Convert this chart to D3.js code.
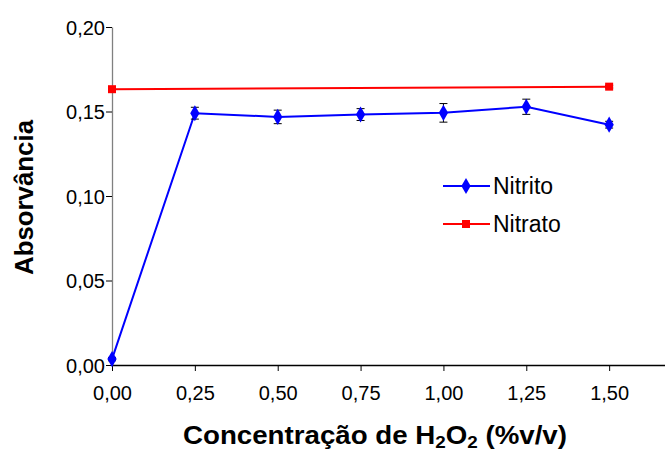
<!DOCTYPE html>
<html>
<head>
<meta charset="utf-8">
<script src="https://cdn.jsdelivr.net/npm/d3@7"></script>
<style>
  body { margin: 0; background: #fff; }
  svg { display: block; font-family: "Liberation Sans", Arial, sans-serif; }
</style>
</head>
<body>
<div id="chart"></div>
<script>
const concentrations = [0, 0.25, 0.5, 0.75, 1.0, 1.25, 1.5];
const nitritoValues  = [0.0035, 0.149, 0.1468, 0.1482, 0.1492, 0.1528, 0.1422];
const nitritoErrors  = [0.001, 0.0035, 0.004, 0.0035, 0.0055, 0.0045, 0.002];
const nitratoX       = [0, 1.5];
const nitratoValues  = [0.1632, 0.1647];
const nitratoErrors  = [0.0008, 0.0008];
const xTicks = [0, 0.25, 0.5, 0.75, 1.0, 1.25, 1.5];
const yTicks = [0, 0.05, 0.10, 0.15, 0.20];

const W = 665, H = 450;
const BLUE = "#0000ff", RED = "#ff0000";

const svg = d3.select("#chart").append("svg")
  .attr("width", W).attr("height", H);

const x = d3.scaleLinear().domain([0, 1.75]).range([112, 692]);
const y = d3.scaleLinear().domain([0, 0.20]).range([365, 27]);
const fmt = d => d3.format(".2f")(d).replace(".", ",");

// Axes
const xAxis = svg.append("g")
  .attr("transform", `translate(0,${y(0)})`)
  .call(d3.axisBottom(x).tickValues(xTicks).tickFormat(fmt).tickSize(6).tickSizeOuter(0));
xAxis.select(".domain").attr("stroke", "#000").attr("stroke-width", 1.3);
xAxis.selectAll(".tick line").attr("stroke", "#000");
xAxis.selectAll(".tick text").attr("font-size", 20).attr("fill", "#000")
  .attr("y", 35).attr("dy", null);

const yAxis = svg.append("g")
  .attr("transform", `translate(${x(0)},0)`)
  .call(d3.axisLeft(y).tickValues(yTicks).tickFormat(fmt).tickSize(6).tickSizeOuter(0));
yAxis.select(".domain").attr("stroke", "#808080").attr("stroke-width", 1.3);
yAxis.selectAll(".tick line").attr("stroke", "#000");
yAxis.selectAll(".tick text").attr("font-size", 20).attr("fill", "#000")
  .attr("x", -7).attr("dy", "0.36em");

// Axis titles
svg.append("text")
  .attr("x", 183).attr("y", 444)
  .attr("textLength", 384).attr("lengthAdjust", "spacingAndGlyphs")
  .attr("font-size", 25).attr("font-weight", "bold")
  .html('Concentração de H<tspan dy="4" font-size="17">2</tspan><tspan dy="-4">O</tspan><tspan dy="4" font-size="17">2</tspan><tspan dy="-4"> (%v/v)</tspan>');

svg.append("text")
  .attr("transform", "translate(33,275) rotate(-90)")
  .attr("textLength", 155).attr("lengthAdjust", "spacingAndGlyphs")
  .attr("font-size", 25).attr("font-weight", "bold")
  .text("Absorvância");

// Data
const nitrito = concentrations.map((c, i) => ({ x: c, v: nitritoValues[i], e: nitritoErrors[i] }));
const nitrato = nitratoX.map((c, i) => ({ x: c, v: nitratoValues[i], e: nitratoErrors[i] }));

const line = d3.line().x(d => x(d.x)).y(d => y(d.v));

function errorBars(data) {
  const g = svg.append("g").attr("stroke", "#000").attr("stroke-width", 1);
  data.forEach(d => {
    g.append("line").attr("x1", x(d.x)).attr("x2", x(d.x))
      .attr("y1", y(d.v - d.e)).attr("y2", y(d.v + d.e));
    [d.v - d.e, d.v + d.e].forEach(v => {
      g.append("line").attr("x1", x(d.x) - 4).attr("x2", x(d.x) + 4)
        .attr("y1", y(v)).attr("y2", y(v));
    });
  });
}

// Nitrato (red)
svg.append("path").datum(nitrato)
  .attr("fill", "none").attr("stroke", RED).attr("stroke-width", 2)
  .attr("d", line);
errorBars(nitrato);
svg.selectAll(".sq").data(nitrato).join("rect")
  .attr("x", d => x(d.x) - 4).attr("y", d => y(d.v) - 4)
  .attr("width", 8).attr("height", 8).attr("fill", RED);

// Nitrito (blue)
svg.append("path").datum(nitrito)
  .attr("fill", "none").attr("stroke", BLUE).attr("stroke-width", 2)
  .attr("d", line);
errorBars(nitrito);
const diamond = d3.symbol().type(d3.symbolDiamond).size(75);
svg.selectAll(".dm").data(nitrito).join("path")
  .attr("transform", d => `translate(${x(d.x)},${y(d.v)})`)
  .attr("d", diamond).attr("fill", BLUE);

// Legend
const legend = [
  { name: "Nitrito", color: BLUE, shape: "diamond" },
  { name: "Nitrato", color: RED, shape: "square" }
];
legend.forEach((l, i) => {
  const ly = 186 + i * 38;
  const g = svg.append("g");
  g.append("line").attr("x1", 443).attr("x2", 490).attr("y1", ly).attr("y2", ly)
    .attr("stroke", l.color).attr("stroke-width", 2);
  if (l.shape === "diamond") {
    g.append("path").attr("transform", `translate(466,${ly})`)
      .attr("d", diamond).attr("fill", l.color);
  } else {
    g.append("rect").attr("x", 462).attr("y", ly - 4).attr("width", 8).attr("height", 8)
      .attr("fill", l.color);
  }
  g.append("text").attr("x", 493).attr("y", ly).attr("dy", "0.36em")
    .attr("font-size", 23).attr("fill", "#000").text(l.name);
});
</script>
</body>
</html>
